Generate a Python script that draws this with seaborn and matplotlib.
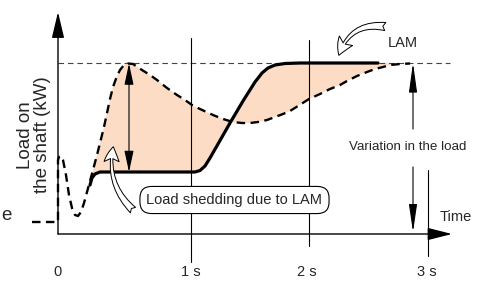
import numpy as np
import matplotlib
matplotlib.use("Agg")
import matplotlib.pyplot as plt
import seaborn as sns
from matplotlib.patches import FancyArrowPatch

# ---- data (time units: px-like, load units: px-like; schematic) ----
solid_t = [32, 34, 37, 42, 137, 142, 147, 152, 172, 185, 197, 204, 210, 217, 227, 242, 320]
solid_load = [49, 56, 60, 62, 62, 63.5, 68, 76, 111, 133, 152, 161, 166, 169, 170.5, 171, 171]

dash_t = [-26, 0, 0, 1, 3, 5, 8, 11, 14, 17, 20, 23, 26, 29, 32, 35, 39, 42, 46, 49, 52, 55,
          59, 62, 66, 70, 75, 84, 92, 99, 109, 119, 127, 134, 142, 155, 165, 175, 184, 192,
          200, 209, 217, 225, 232, 240, 251, 262, 272, 282, 289, 299, 309, 317, 325, 332,
          342, 352]
dash_load = [12, 12, 74, 77, 78, 74, 59, 39, 26, 19, 18, 22, 31, 42, 53, 64, 79, 91, 107, 121,
             135, 147, 158, 164, 169, 170.5, 170, 164, 159, 154, 146, 139, 134, 129, 125, 119,
             115, 112, 111, 111, 112, 114, 117, 120, 123, 128, 135, 140, 145, 149, 153, 158,
             162, 165, 167, 169, 170, 170.5]
fill_start = 15  # index in dashed series where the shaded gap begins

tick_pos = [-1, 133, 249, 369]
tick_labels = ["0", "1 s", "2 s", "3 s"]
vline_t = [133, 251, 370]
vline_top = [196, 194, 64]
vline_bottom = [-28, -12, -22]
max_load = 171

sns.set_theme(style="white")
plt.rcParams['font.family'] = ['Liberation Sans', 'DejaVu Sans']

fig = plt.figure(figsize=(4.89, 2.84), dpi=100)
ax = fig.add_axes([0, 0, 1, 1])
ax.set_xlim(-58, 431)
ax.set_ylim(-50, 234)
ax.axis('off')

# shaded gap between curves
px = np.concatenate([dash_t[fill_start:], solid_t[::-1]])
py = np.concatenate([dash_load[fill_start:], solid_load[::-1]])
ax.fill(px, py, color='#fcdcc4', lw=0, zorder=1)

# reference line at max load
ax.plot([0, 392], [max_load, max_load], color='#444444', lw=0.8,
        linestyle=(0, (5, 3.5)), zorder=2)

# vertical time markers
for t, top, bot in zip(vline_t, vline_top, vline_bottom):
    ax.plot([t, t], [bot, top], color='black', lw=0.8, zorder=2)

# curves
sns.lineplot(x=dash_t, y=dash_load, ax=ax, sort=False, estimator=None, color='black',
             lw=1.7, linestyle=(0, (3.6, 2.3)), zorder=4)
sns.lineplot(x=solid_t, y=solid_load, ax=ax, sort=False, estimator=None, color='black',
             lw=2.3, solid_capstyle='round', zorder=5)

# axes arrows
ax.annotate('', xy=(394, 0), xytext=(0, 0),
            arrowprops=dict(arrowstyle='-|>,head_length=1.5,head_width=0.38',
                            mutation_scale=10, lw=1.0, color='black', shrinkA=0, shrinkB=0), zorder=6)
ax.annotate('', xy=(0, 222), xytext=(0, 0),
            arrowprops=dict(arrowstyle='-|>,head_length=1.6,head_width=0.38',
                            mutation_scale=10, lw=1.0, color='black', shrinkA=0, shrinkB=0), zorder=6)

# double arrow at peak
ax.annotate('', xy=(71, 170.5), xytext=(71, 62),
            arrowprops=dict(arrowstyle='<|-|>,head_length=1.3,head_width=0.28',
                            mutation_scale=10, lw=0.8, color='black', shrinkA=0, shrinkB=0), zorder=6)

# variation in the load arrows
ax.annotate('', xy=(355, 171), xytext=(355, 105),
            arrowprops=dict(arrowstyle='-|>,head_length=1.8,head_width=0.25',
                            mutation_scale=10, lw=0.8, color='black', shrinkA=0, shrinkB=0), zorder=6)
ax.annotate('', xy=(355, 2), xytext=(355, 67),
            arrowprops=dict(arrowstyle='-|>,head_length=1.7,head_width=0.25',
                            mutation_scale=10, lw=0.8, color='black', shrinkA=0, shrinkB=0), zorder=6)

# hollow curved arrows
a1 = FancyArrowPatch((330, 207), (280, 176),
                     connectionstyle='arc3,rad=0.45',
                     arrowstyle='fancy,head_length=0.9,head_width=0.9,tail_width=0.45',
                     mutation_scale=13, fc='white', ec='black', lw=0.7, zorder=7)
ax.add_patch(a1)
a2 = FancyArrowPatch((77, 22), (56, 90),
                     connectionstyle='arc3,rad=-0.3',
                     arrowstyle='fancy,head_length=0.9,head_width=0.9,tail_width=0.45',
                     mutation_scale=12, fc='white', ec='black', lw=0.7, zorder=7)
ax.add_patch(a2)

# texts
ax.text(176.5, 34, 'Load shedding due to LAM', fontsize=10.5, ha='center', va='center',
        bbox=dict(boxstyle='round,pad=0.45,rounding_size=0.8', fc='white', ec='black', lw=0.8),
        zorder=8)
ax.text(345, 191, 'LAM', fontsize=10.5, ha='center', va='center')
ax.text(350, 87, 'Variation in the load', fontsize=9.6, ha='center', va='center',
        bbox=dict(boxstyle='square,pad=0.1', fc='white', ec='none'))
ax.text(382, 17, 'Time', fontsize=10.5, ha='left', va='center')
ax.text(-24, 99, 'Load on\nthe shaft (kW)', fontsize=13.5, rotation=90, ha='center', va='center',
        linespacing=0.95)
ax.text(-57, 18, 'e', fontsize=13.5, ha='left', va='center')

for p, lab in zip(tick_pos, tick_labels):
    ax.text(p, -38, lab, fontsize=10.5, ha='center', va='center')

fig.savefig('out.png', dpi=100)
